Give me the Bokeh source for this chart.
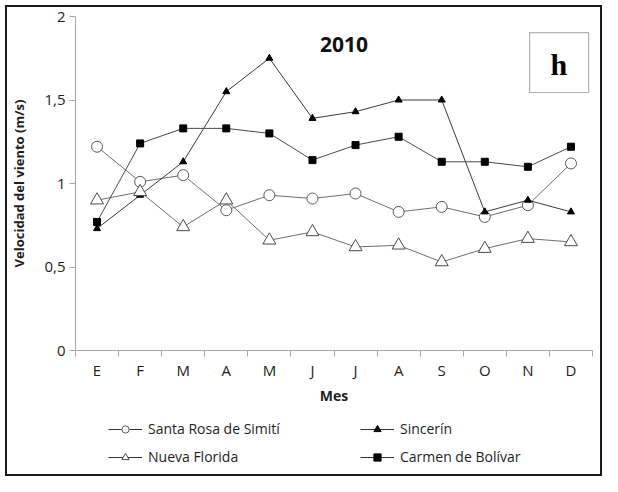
from bokeh.plotting import figure
from bokeh.layouts import column
from bokeh.models import (Range1d, FixedTicker, Legend, LegendItem, Label, BoxAnnotation,
                          ColumnDataSource)
from bokeh.embed import file_html
from bokeh.resources import INLINE

months = ["E", "F", "M", "A", "M", "J", "J", "A", "S", "O", "N", "D"]
santa_rosa = [1.22, 1.01, 1.05, 0.84, 0.93, 0.91, 0.94, 0.83, 0.86, 0.80, 0.87, 1.12]
sincerin = [0.73, 0.93, 1.13, 1.55, 1.75, 1.39, 1.43, 1.50, 1.50, 0.83, 0.90, 0.83]
nueva_florida = [0.90, 0.95, 0.74, 0.90, 0.66, 0.71, 0.62, 0.63, 0.53, 0.61, 0.67, 0.65]
carmen = [0.77, 1.24, 1.33, 1.33, 1.30, 1.14, 1.23, 1.28, 1.13, 1.13, 1.10, 1.22]
series_names = ["Santa Rosa de Simití", "Sincerín", "Nueva Florida", "Carmen de Bolívar"]
y_ticks = [0, 0.5, 1, 1.5, 2]
y_tick_labels = ["0", "0,5", "1", "1,5", "2"]

FONT = "Open Sans"
AX = "#a6a6a6"
TXT = "#1e1e1e"
xpos = [i + 0.5 for i in range(len(months))]

p = figure(width=593, height=405, output_backend="svg", toolbar_location=None,
           x_range=Range1d(0, len(months)), y_range=Range1d(0, 2),
           min_border_left=68, min_border_right=8, min_border_top=9, min_border_bottom=62)
p.outline_line_color = None
p.xgrid.visible = False
p.ygrid.visible = False
p.background_fill_color = "white"
p.border_fill_color = "white"

# x axis
p.xaxis.ticker = FixedTicker(ticks=xpos, minor_ticks=list(range(len(months) + 1)))
p.xaxis.major_label_overrides = {x: m for x, m in zip(xpos, months)}
p.xaxis.major_tick_line_color = None
p.xaxis.minor_tick_line_color = AX
p.xaxis.minor_tick_out = 6
p.xaxis.minor_tick_in = 0
p.xaxis.axis_line_color = AX
p.xaxis.major_label_standoff = 3
p.xaxis.major_label_text_font = FONT
p.xaxis.major_label_text_font_size = "15px"
p.xaxis.major_label_text_color = TXT
p.xaxis.axis_label = "Mes"
p.xaxis.axis_label_text_font = FONT
p.xaxis.axis_label_text_font_style = "bold"
p.xaxis.axis_label_text_font_size = "14px"
p.xaxis.axis_label_text_color = TXT
p.xaxis.axis_label_standoff = 3

# y axis
p.yaxis.ticker = FixedTicker(ticks=y_ticks, minor_ticks=[])
p.yaxis.major_label_overrides = {t: l for t, l in zip(y_ticks, y_tick_labels)}
p.yaxis.major_tick_line_color = AX
p.yaxis.major_tick_out = 6
p.yaxis.major_tick_in = 0
p.yaxis.minor_tick_line_color = None
p.yaxis.axis_line_color = AX
p.yaxis.major_label_standoff = 4
p.yaxis.major_label_text_font = FONT
p.yaxis.major_label_text_font_size = "15px"
p.yaxis.major_label_text_color = TXT
p.yaxis.axis_label = "Velocidad del viento (m/s)"
p.yaxis.axis_label_text_font = FONT
p.yaxis.axis_label_text_font_style = "bold"
p.yaxis.axis_label_text_font_size = "13px"
p.yaxis.axis_label_text_color = TXT
p.yaxis.axis_label_standoff = 13

# marker styles per series: (marker, size, fill, line colour, marker outline)
styles = [("circle", 11, "white", "#6e6e6e", "#5a5a5a"),
          ("triangle", 7, "black", "#3a3a3a", "black"),
          ("triangle", 13, "white", "#6e6e6e", "#4a4a4a"),
          ("square", 7, "black", "#4a4a4a", "black")]
values = [santa_rosa, sincerin, nueva_florida, carmen]

for vals, (mk, sz, fill, lc, mc) in zip(values, styles):
    src = ColumnDataSource(dict(x=xpos, y=vals))
    p.line("x", "y", source=src, line_color=lc, line_width=1)
    p.scatter("x", "y", source=src, marker=mk, size=sz, fill_color=fill,
              line_color=mc, line_width=1)

p.add_layout(Label(x=6.23, y=1.832, text="2010", text_font=FONT, text_font_style="bold",
                   text_font_size="21px", text_align="center", text_baseline="middle",
                   text_color="#111111"))
p.add_layout(BoxAnnotation(left=10.54, right=11.91, bottom=1.545, top=1.904,
                           fill_color="white", fill_alpha=1, line_color="black",
                           line_width=1.2))
p.add_layout(Label(x=11.22, y=1.715, text="h", text_font="Liberation Serif",
                   text_font_style="bold", text_font_size="30px", text_align="center",
                   text_baseline="middle", text_color="black"))

# legend strip (its own small figure below the chart)
pl = figure(width=593, height=62, output_backend="svg", toolbar_location=None,
            x_range=Range1d(0, 1), y_range=Range1d(0, 1),
            x_axis_location=None, y_axis_location=None,
            min_border=0, min_border_left=0, min_border_right=0,
            min_border_top=0, min_border_bottom=0)
pl.outline_line_color = None
pl.xgrid.visible = False
pl.ygrid.visible = False

nan = float("nan")
items = []
for name, (mk, sz, fill, lc, mc) in zip(series_names, styles):
    lr = pl.line(x=[nan, nan], y=[nan, nan], line_color="#333333", line_width=1)
    sr = pl.scatter(x=[nan], y=[nan], marker=mk, size=sz, fill_color=fill,
                    line_color=mc, line_width=1)
    items.append(LegendItem(label=name, renderers=[lr, sr]))

def add_legend(its, loc):
    lg = Legend(items=its, location=loc, orientation="vertical",
                glyph_width=34, glyph_height=18, label_height=18, spacing=9,
                label_standoff=6, padding=0, margin=0,
                border_line_color=None, background_fill_alpha=0,
                label_text_font=FONT, label_text_font_size="14px",
                label_text_color=TXT)
    pl.add_layout(lg, "center")

add_legend([items[0], items[2]], (33, 8))
add_legend([items[1], items[3]], (285, 8))

inner = column(p, pl, spacing=0, styles={"border": "2px solid #1a1a1a"})
root = column(inner, spacing=0, styles={"padding-left": "5px", "padding-top": "5px"})

open("out.html", "w").write(file_html(root, INLINE))
